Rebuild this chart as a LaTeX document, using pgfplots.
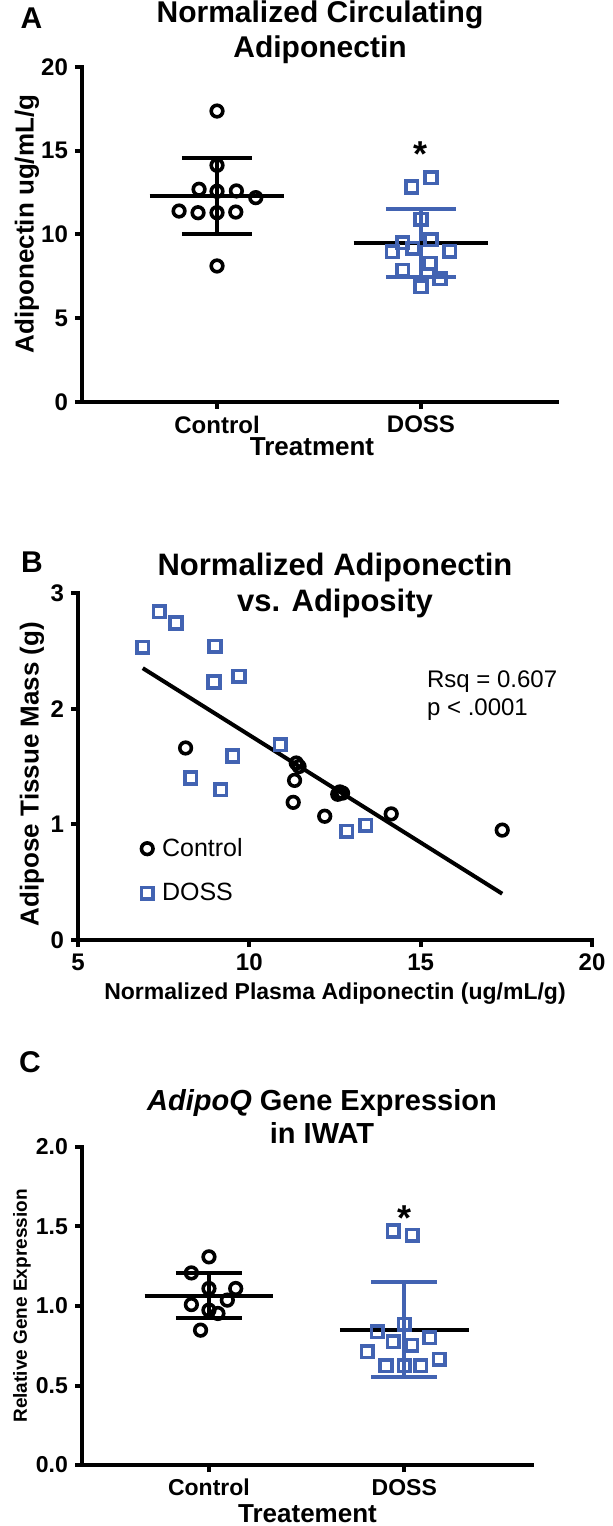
\documentclass[border=0pt]{standalone}
\usepackage{fontspec}
\setmainfont{Liberation Sans}
\usepackage{pgfplots}
\pgfplotsset{compat=1.18}
\definecolor{dossblue}{RGB}{66,99,178}

\pgfplotsset{
  prism/.style={
    scale only axis,
    axis x line*=bottom, axis y line*=left,
    axis line style={line width=2pt, line cap=rect},
    tick align=outside,
    major tick length=3.5pt,
    tick style={line width=2pt, black},
    clip=false,
    tick label style={font=\bfseries\fontsize{12}{14}\selectfont},
  },
  ctrl/.style={only marks, mark=o, mark size=2.9pt, line width=1.8pt, black,
    legend image code/.code={\draw[##1] plot coordinates {(0pt,0pt)};}},
  doss/.style={only marks, mark=square, mark size=2.9pt, line width=1.8pt, dossblue,
    legend image code/.code={\draw[##1] plot coordinates {(0pt,0pt)};}},
  bar/.style={line width=2pt, forget plot},
}

\begin{document}
\begin{tikzpicture}
\path[use as bounding box] (0,0) rectangle (306pt,763pt);

% ---------- A ----------
\begin{axis}[prism, at={(41pt,562pt)}, anchor=south west,
  width=237.5pt, height=167.5pt,
  xmin=0.338, xmax=2.667, ymin=0, ymax=20,
  xtick={1,2}, xticklabels={Control,DOSS},
  ytick={0,5,10,15,20}, yticklabels={0,5,10,15,20}]
\addplot[ctrl] coordinates {
  (1.000,17.37) (1.000,14.13) (0.912,12.70) (1.000,12.58) (1.095,12.60) (1.190,12.20)
  (0.814,11.40) (0.907,11.30) (1.000,11.30) (1.092,11.34) (1.000,8.12)};
\addplot[doss] coordinates {
  (2.049,13.40) (1.954,12.84) (2.000,10.90) (2.049,9.70) (1.910,9.51) (1.960,9.17)
  (2.140,9.00) (1.860,8.97) (2.044,8.29) (1.910,7.86) (2.093,7.37) (2.000,6.89)};
\addplot[bar, black] coordinates {(1,10.0) (1,14.57)};
\addplot[bar, black] coordinates {(0.828,14.57) (1.172,14.57)};
\addplot[bar, black] coordinates {(0.828,10.0) (1.172,10.0)};
\addplot[bar, black] coordinates {(0.67,12.28) (1.33,12.28)};
\addplot[bar, dossblue] coordinates {(2,7.48) (2,11.52)};
\addplot[bar, dossblue] coordinates {(1.828,11.52) (2.172,11.52)};
\addplot[bar, dossblue] coordinates {(1.828,7.48) (2.172,7.48)};
\addplot[bar, black] coordinates {(1.67,9.50) (2.33,9.50)};
\node[font=\bfseries\fontsize{18}{18}\selectfont] at (axis cs:2,14.77) {*};
\end{axis}

% ---------- B ----------
\begin{axis}[prism, at={(39pt,293pt)}, anchor=south west,
  width=257pt, height=173.5pt,
  xmin=5, xmax=20, ymin=0, ymax=3,
  xtick={5,10,15,20}, xticklabels={5,10,15,20},
  ytick={0,1,2,3}, yticklabels={0,1,2,3},
  legend style={at={(axis cs:6.84,0.597)}, anchor=west, draw=none, fill=none,
    inner sep=0pt, row sep=8pt, column sep=2.5pt, font=\fontsize{12.5}{14}\selectfont},
  legend cell align=left]
\addplot[ctrl] coordinates {
  (8.14,1.66) (11.37,1.53) (11.45,1.50) (11.32,1.38) (11.28,1.19) (12.20,1.07)
  (12.58,1.26) (12.64,1.28) (12.72,1.27) (14.14,1.09) (17.38,0.95)};
\addplot[doss] coordinates {
  (7.37,2.84) (7.86,2.74) (6.89,2.53) (9.00,2.54) (9.70,2.28) (8.97,2.23)
  (10.90,1.69) (9.51,1.59) (8.29,1.40) (9.17,1.30) (12.84,0.94) (13.40,0.99)};
\addplot[bar, black] coordinates {(6.89,2.35) (17.38,0.40)};
\legend{Control,DOSS}
\end{axis}

% ---------- C ----------
\begin{axis}[prism, at={(41pt,30.5pt)}, anchor=south west,
  width=225pt, height=159pt,
  xmin=0.35, xmax=2.654, ymin=0, ymax=2,
  xtick={1,2}, xticklabels={Control,DOSS},
  ytick={0,0.5,1,1.5,2}, yticklabels={0.0,0.5,1.0,1.5,2.0},
  tick label style={font=\bfseries\fontsize{11.5}{13}\selectfont}]
\addplot[ctrl] coordinates {
  (1.000,1.309) (0.910,1.208) (1.000,1.110) (1.137,1.110) (0.910,1.009)
  (1.094,1.037) (1.000,0.974) (1.046,0.953) (0.957,0.848)};
\addplot[doss] coordinates {
  (1.944,1.472) (2.041,1.445) (2.000,0.886) (1.862,0.838) (2.131,0.800) (1.944,0.775)
  (2.038,0.754) (1.810,0.712) (2.180,0.664) (1.906,0.624) (2.000,0.624) (2.085,0.624)};
\addplot[bar, black] coordinates {(1,0.926) (1,1.208)};
\addplot[bar, black] coordinates {(0.83,1.208) (1.17,1.208)};
\addplot[bar, black] coordinates {(0.83,0.926) (1.17,0.926)};
\addplot[bar, black] coordinates {(0.67,1.064) (1.33,1.064)};
\addplot[bar, dossblue] coordinates {(2,0.553) (2,1.149)};
\addplot[bar, dossblue] coordinates {(1.83,1.149) (2.17,1.149)};
\addplot[bar, dossblue] coordinates {(1.83,0.553) (2.17,0.553)};
\addplot[bar, black] coordinates {(1.67,0.852) (2.33,0.852)};
\node[font=\bfseries\fontsize{18}{18}\selectfont] at (axis cs:2,1.55) {*};
\end{axis}

% ---------- labels ----------
\node[font=\bfseries\fontsize{15}{15}\selectfont] at (15.75pt,753.75pt) {A};
\node[align=center, font=\bfseries\fontsize{15}{17.5}\selectfont] at (160pt,746.75pt) {Normalized Circulating\\Adiponectin};
\node[rotate=90, font=\bfseries\fontsize{13}{15}\selectfont] at (13.5pt,651pt) {Adiponectin ug/mL/g};
\node[font=\bfseries\fontsize{13}{15}\selectfont] at (156pt,539.5pt) {Treatment};

\node[font=\bfseries\fontsize{15}{15}\selectfont] at (16pt,482pt) {B};
\node[align=center, font=\bfseries\fontsize{15.5}{18}\selectfont] at (167.5pt,470.5pt) {Normalized Adiponectin\\vs. Adiposity};
\node[rotate=90, font=\bfseries\fontsize{13}{15}\selectfont] at (16pt,376pt) {Adipose Tissue Mass (g)};
\node[font=\bfseries\fontsize{11.5}{14}\selectfont] at (167.5pt,266pt) {Normalized Plasma Adiponectin (ug/mL/g)};
\node[anchor=west, align=left, font=\fontsize{12}{14}\selectfont] at (210pt,415pt) {Rsq = 0.607\\p < .0001};

\node[font=\bfseries\fontsize{15}{15}\selectfont] at (15pt,232pt) {C};
\node[align=center, font=\bfseries\fontsize{14.5}{16.5}\selectfont] at (161pt,204.75pt) {\textit{AdipoQ} Gene Expression\\in IWAT};
\node[rotate=90, font=\bfseries\fontsize{9.5}{11}\selectfont] at (11pt,110pt) {Relative Gene Expression};
\node[font=\bfseries\fontsize{13}{15}\selectfont] at (153.75pt,6pt) {Treatement};
\end{tikzpicture}
\end{document}
